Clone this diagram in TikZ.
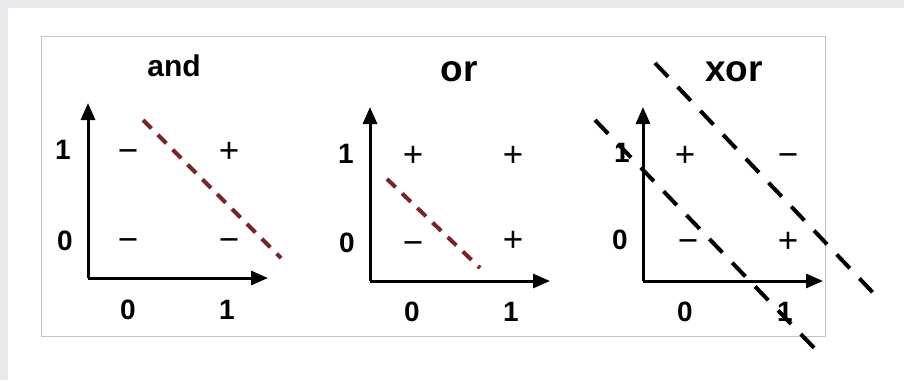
\documentclass[tikz,border=0pt]{standalone}
\usepackage{fontspec}
\setmainfont{Liberation Sans}
\usetikzlibrary{arrows.meta}
\definecolor{pagegray}{RGB}{232,233,236}
\definecolor{framegray}{RGB}{195,195,195}
\definecolor{sepred}{RGB}{122,36,42}

\begin{document}
\begin{tikzpicture}[x=1pt,y=-1pt,
  axis/.style={line width=3pt, -{Triangle[length=17pt,width=14pt]}},
  title/.style={font=\bfseries\fontsize{30}{30}\selectfont, inner sep=0pt},
  bigtitle/.style={font=\bfseries\fontsize{37}{37}\selectfont, inner sep=0pt},
  tick/.style={font=\bfseries\fontsize{28}{28}\selectfont, inner sep=0pt},
  sign/.style={font=\fontsize{35}{35}\selectfont, inner sep=0pt, anchor=base},
  redsep/.style={draw=sepred, line width=4pt, dash pattern=on 12pt off 9pt},
  blacksep/.style={draw=black, line width=4pt, dash pattern=on 19pt off 14pt}]
  % page and frame
  \fill[pagegray] (0,0) rectangle (904,380);
  \fill[white] (8,8) rectangle (904,380);
  \draw[framegray, line width=1pt] (41,36) rectangle (825,336);

  % and
  \node[title] (and-title) at (174,66) {and};
  \coordinate (and-o) at (88,278);
  \coordinate (and-ytip) at (88,103);
  \coordinate (and-xtip) at (268,278);
  \draw[axis] (and-o) -- (and-ytip);
  \draw[axis] (and-o) -- (and-xtip);
  \node[tick] (and-y1) at (63,150) {1};
  \node[tick] (and-y0) at (65,241) {0};
  \node[tick] (and-x0) at (128,310) {0};
  \node[tick] (and-x1) at (227,310) {1};
  \node[sign] (and-01) at (128,162) {−};
  \node[sign] (and-11) at (229,162) {+};
  \node[sign] (and-00) at (128,251) {−};
  \node[sign] (and-10) at (229,251) {−};
  \coordinate (and-a) at (143,120);
  \coordinate (and-b) at (281,258);
  \draw[redsep] (and-a) -- (and-b);

  % or
  \node[bigtitle] (or-title) at (459,72) {or};
  \coordinate (or-o) at (370,281);
  \coordinate (or-ytip) at (370,107);
  \coordinate (or-xtip) at (550,281);
  \draw[axis] (or-o) -- (or-ytip);
  \draw[axis] (or-o) -- (or-xtip);
  \node[tick] (or-y1) at (346,154) {1};
  \node[tick] (or-y0) at (347,243) {0};
  \node[tick] (or-x0) at (412,312) {0};
  \node[tick] (or-x1) at (511,312) {1};
  \node[sign] (or-01) at (413,166) {+};
  \node[sign] (or-11) at (513,166) {+};
  \node[sign] (or-00) at (413,254) {−};
  \node[sign] (or-10) at (513,251) {+};
  \coordinate (or-a) at (387,179);
  \coordinate (or-b) at (480,268);
  \draw[redsep] (or-a) -- (or-b);

  % xor
  \node[bigtitle] (xor-title) at (734,72) {xor};
  \coordinate (xor-o) at (643,281);
  \coordinate (xor-ytip) at (643,107);
  \coordinate (xor-xtip) at (823,281);
  \draw[axis] (xor-o) -- (xor-ytip);
  \draw[axis] (xor-o) -- (xor-xtip);
  \node[tick] (xor-y1) at (622,153) {1};
  \node[tick] (xor-y0) at (620,240) {0};
  \node[tick] (xor-x0) at (685,312) {0};
  \node[tick] (xor-x1) at (785,312) {1};
  \node[sign] (xor-01) at (685,166) {+};
  \node[sign] (xor-11) at (788,166) {−};
  \node[sign] (xor-00) at (688,252) {−};
  \node[sign] (xor-10) at (788,252) {+};
  \coordinate (xor-a) at (655,63);
  \coordinate (xor-b) at (878,298);
  \coordinate (xor-c) at (595,120);
  \coordinate (xor-d) at (818,352);
  \draw[blacksep] (xor-a) -- (xor-b);
  \draw[blacksep] (xor-c) -- (xor-d);
\end{tikzpicture}
\end{document}
